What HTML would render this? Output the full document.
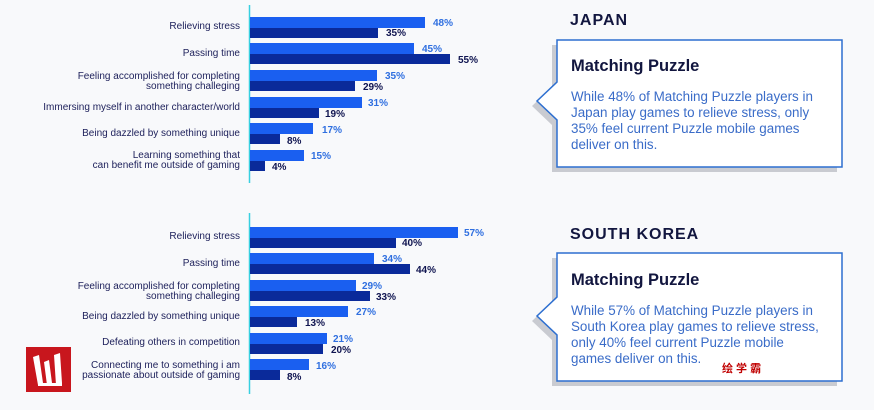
<!DOCTYPE html>
<html><head><meta charset="utf-8"><style>
html,body{margin:0;padding:0;background:#f8f9fb;}
svg{display:block;font-family:"Liberation Sans",sans-serif;}
.lb{font-size:10px;fill:#1c1f5a;text-anchor:end;}
.pl{font-size:10px;font-weight:bold;fill:#2f6fe0;}
.pd{font-size:10px;font-weight:bold;fill:#0f1450;}
.h{font-size:16px;font-weight:bold;fill:#12163f;letter-spacing:1px;}
.t{font-size:16.5px;font-weight:bold;fill:#12163f;}
.b{font-size:13.4px;fill:#3a6cc8;}
</style></head><body>
<svg width="874" height="410" viewBox="0 0 874 410">
<rect width="874" height="410" fill="#f8f9fb"/>
<line x1="249.5" y1="5" x2="249.5" y2="183" stroke="#38d0e0" stroke-width="1.5"/>
<line x1="249.5" y1="213" x2="249.5" y2="394" stroke="#38d0e0" stroke-width="1.5"/>
<!-- Japan -->
<g>
<rect x="250" y="17" width="175" height="11" fill="#1a5ff0"/><rect x="250" y="28" width="128" height="10" fill="#0a2a9a"/>
<text class="lb" x="240" y="29">Relieving stress</text>
<text class="pl" x="433" y="26">48%</text><text class="pd" x="386" y="36">35%</text>
<rect x="250" y="43" width="164" height="11" fill="#1a5ff0"/><rect x="250" y="54" width="200" height="10" fill="#0a2a9a"/>
<text class="lb" x="240" y="56">Passing time</text>
<text class="pl" x="422" y="52">45%</text><text class="pd" x="458" y="63">55%</text>
<rect x="250" y="70" width="127" height="11" fill="#1a5ff0"/><rect x="250" y="81" width="105" height="10" fill="#0a2a9a"/>
<text class="lb" x="240" y="79">Feeling accomplished for completing</text><text class="lb" x="240" y="89">something challeging</text>
<text class="pl" x="385" y="79">35%</text><text class="pd" x="363" y="90">29%</text>
<rect x="250" y="97" width="112" height="11" fill="#1a5ff0"/><rect x="250" y="108" width="69" height="10" fill="#0a2a9a"/>
<text class="lb" x="240" y="110">Immersing myself in another character/world</text>
<text class="pl" x="368" y="106">31%</text><text class="pd" x="325" y="117">19%</text>
<rect x="250" y="123" width="63" height="11" fill="#1a5ff0"/><rect x="250" y="134" width="30" height="10" fill="#0a2a9a"/>
<text class="lb" x="240" y="136">Being dazzled by something unique</text>
<text class="pl" x="322" y="133">17%</text><text class="pd" x="287" y="144">8%</text>
<rect x="250" y="150" width="54" height="11" fill="#1a5ff0"/><rect x="250" y="161" width="15" height="10" fill="#0a2a9a"/>
<text class="lb" x="240" y="158">Learning something that</text><text class="lb" x="240" y="168">can benefit me outside of gaming</text>
<text class="pl" x="311" y="159">15%</text><text class="pd" x="272" y="170">4%</text>
</g>
<!-- Korea -->
<g>
<rect x="250" y="227" width="208" height="11" fill="#1a5ff0"/><rect x="250" y="238" width="146" height="10" fill="#0a2a9a"/>
<text class="lb" x="240" y="239">Relieving stress</text>
<text class="pl" x="464" y="236">57%</text><text class="pd" x="402" y="246">40%</text>
<rect x="250" y="253" width="124" height="11" fill="#1a5ff0"/><rect x="250" y="264" width="160" height="10" fill="#0a2a9a"/>
<text class="lb" x="240" y="266">Passing time</text>
<text class="pl" x="382" y="262">34%</text><text class="pd" x="416" y="273">44%</text>
<rect x="250" y="280" width="106" height="11" fill="#1a5ff0"/><rect x="250" y="291" width="120" height="10" fill="#0a2a9a"/>
<text class="lb" x="240" y="289">Feeling accomplished for completing</text><text class="lb" x="240" y="299">something challeging</text>
<text class="pl" x="362" y="289">29%</text><text class="pd" x="376" y="300">33%</text>
<rect x="250" y="306" width="98" height="11" fill="#1a5ff0"/><rect x="250" y="317" width="47" height="10" fill="#0a2a9a"/>
<text class="lb" x="240" y="319">Being dazzled by something unique</text>
<text class="pl" x="356" y="315">27%</text><text class="pd" x="305" y="326">13%</text>
<rect x="250" y="333" width="77" height="11" fill="#1a5ff0"/><rect x="250" y="344" width="73" height="10" fill="#0a2a9a"/>
<text class="lb" x="240" y="345">Defeating others in competition</text>
<text class="pl" x="333" y="342">21%</text><text class="pd" x="331" y="353">20%</text>
<rect x="250" y="359" width="59" height="11" fill="#1a5ff0"/><rect x="250" y="370" width="30" height="10" fill="#0a2a9a"/>
<text class="lb" x="240" y="368">Connecting me to something i am</text><text class="lb" x="240" y="378">passionate about outside of gaming</text>
<text class="pl" x="316" y="369">16%</text><text class="pd" x="287" y="380">8%</text>
</g>
<!-- callouts -->
<text class="h" x="570" y="25">JAPAN</text>
<path d="M552,45 H837 V172 H552 V125 L532,106 L552,87 Z" fill="#c9cbd1"/>
<path d="M557,40 H842 V167 H557 V120 L537,101 L557,82 Z" fill="#fff" stroke="#2d6fd0" stroke-width="1.5"/>
<text class="t" x="571" y="71">Matching Puzzle</text>
<text class="b"><tspan x="571" y="101">While 48% of Matching Puzzle players in</tspan><tspan x="571" y="117">Japan play games to relieve stress, only</tspan><tspan x="571" y="133">35% feel current Puzzle mobile games</tspan><tspan x="571" y="149">deliver on this.</tspan></text>
<text class="h" x="570" y="239">SOUTH KOREA</text>
<path d="M552,258 H837 V386 H552 V340 L532,321 L552,302 Z" fill="#c9cbd1"/>
<path d="M557,253 H842 V381 H557 V335 L537,316 L557,297 Z" fill="#fff" stroke="#2d6fd0" stroke-width="1.5"/>
<text class="t" x="571" y="285">Matching Puzzle</text>
<text class="b"><tspan x="571" y="315">While 57% of Matching Puzzle players in</tspan><tspan x="571" y="331">South Korea play games to relieve stress,</tspan><tspan x="571" y="347">only 40% feel current Puzzle mobile</tspan><tspan x="571" y="363">games deliver on this.</tspan></text>
<text x="722" y="372" font-size="11" font-weight="bold" fill="#c00000" font-family="'Liberation Sans','Noto Sans CJK SC',sans-serif">绘 学 霸</text>
<!-- logo -->
<rect x="26" y="347" width="45" height="45" fill="#c8161d"/>
<path d="M33,357 L39,355 L43,383 L38,385 Z M44,362 L49,360 L52,383 L47,385 Z M54,355 L60,353 L62,383 L56,385 Z M38,383 L62,383 L62,386 L38,386 Z" fill="#fff"/>
</svg>
</body></html>
